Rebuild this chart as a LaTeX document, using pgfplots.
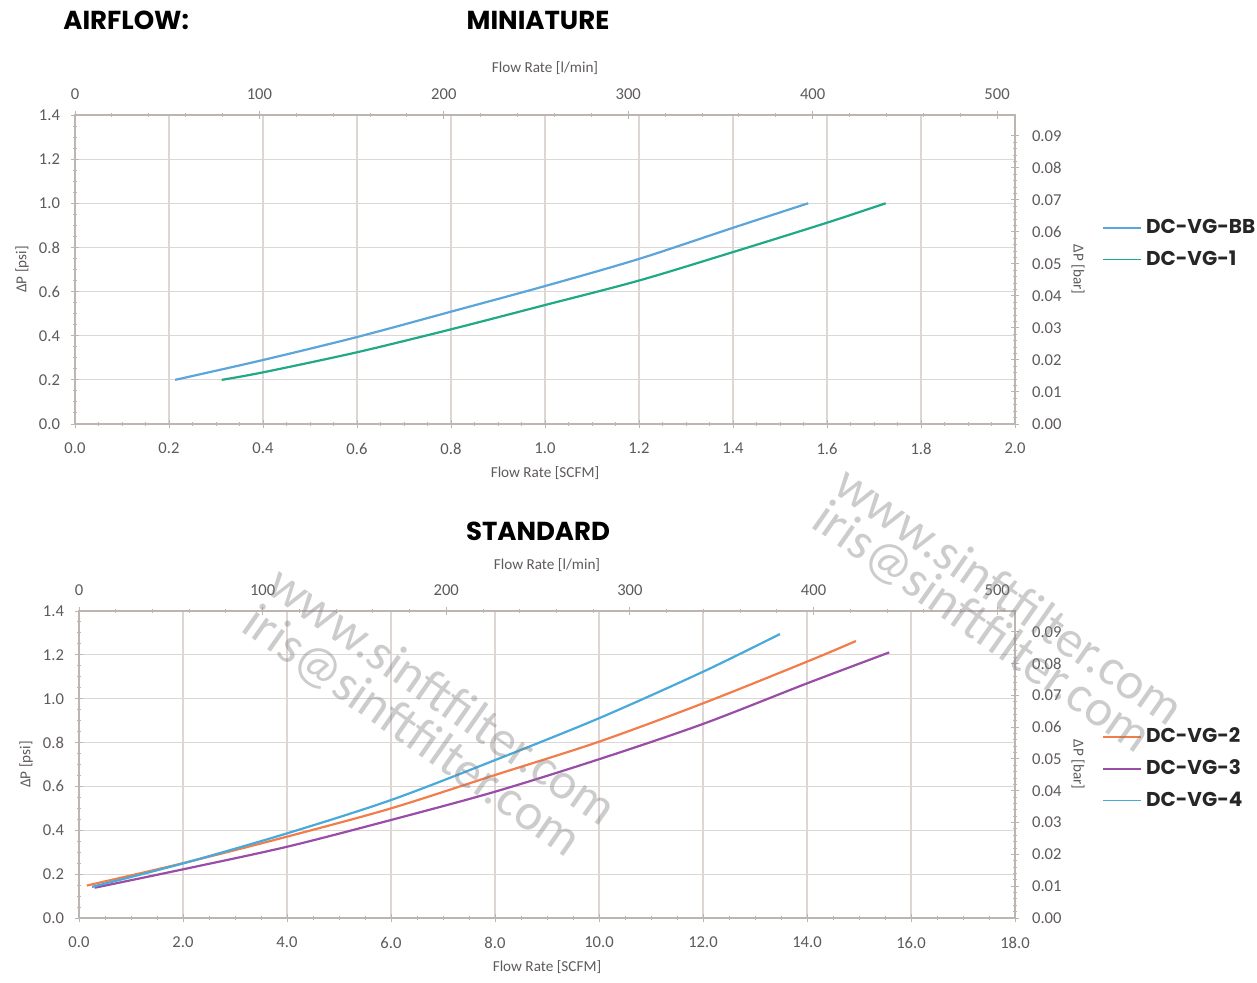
\documentclass[border=0pt]{standalone}
\usepackage{fontspec}
\setmainfont{Carlito}
\newfontfamily\headfont{Poppins}
\usepackage{pgfplots}
\pgfplotsset{compat=1.18}

\definecolor{gridc}{HTML}{DDD6D3}
\definecolor{axisc}{HTML}{BDB5B2}
\definecolor{tickc}{HTML}{5E5A59}
\definecolor{cBB}{HTML}{5AA5DC}
\definecolor{cVone}{HTML}{1FA987}
\definecolor{cVtwo}{HTML}{F27D4B}
\definecolor{cVthree}{HTML}{9A4DA6}
\definecolor{cVfour}{HTML}{48A9DB}

\pgfplotsset{
  flowbase/.style={
    scale only axis,
    axis line style={axisc, line width=0.7pt},
    tick style={axisc, line width=0.5pt},
    major tick length=4pt, minor tick length=2pt,
    tick align=center,
    ticklabel style={font=\fontsize{8.3}{9}\selectfont, text=tickc},
    label style={font=\fontsize{7.6}{9}\selectfont, text=tickc},
    /pgf/number format/assume math mode=true,
    scaled ticks=false,
  },
  flowmain/.style={
    flowbase,
    grid=major, grid style={gridc, line width=0.6pt},
    tick pos=left,
    ymin=0, ymax=1.4, ytick={0,0.2,...,1.41},
    minor x tick num=3, minor y tick num=3,
    xticklabel style={/pgf/number format/fixed, /pgf/number format/fixed zerofill, /pgf/number format/precision=1},
    yticklabel style={/pgf/number format/fixed, /pgf/number format/fixed zerofill, /pgf/number format/precision=1},
    xticklabel shift=4pt, yticklabel shift=2pt,
    ylabel={ΔP [psi]},
    xlabel={Flow Rate [SCFM]},
    legend cell align=left,
    legend image code/.code={\draw[#1, line width=0.8pt] (0pt,0pt) -- (19pt,0pt);},
    legend style={draw=none, fill=none, inner sep=0pt, row sep=3pt,
      font=\headfont\bfseries\fontsize{10}{12}\selectfont, text=black!85},
    every axis plot/.append style={line width=1.1pt, smooth},
  },
  flowtwin/.style={
    flowbase,
    axis x line*=top, axis y line*=right,
    xmin=0, xmax=509.7, xtick={0,100,...,500},
    ymin=0, ymax=0.096527, ytick={0,0.01,...,0.091},
    minor x tick num=4, minor y tick num=4,
    yticklabel style={/pgf/number format/fixed, /pgf/number format/fixed zerofill, /pgf/number format/precision=2},
    xticklabel shift=2pt, yticklabel shift=3pt,
    xlabel={Flow Rate [l/min]}, ylabel={ΔP [bar]},
  },
}

\begin{document}
\begin{tikzpicture}

% ---- MINIATURE ----
\begin{axis}[flowmain,
  at={(37.5pt,279pt)}, anchor=south west, width=470pt, height=154.5pt,
  xmin=0, xmax=2, xtick={0,0.2,...,2.01},
  xlabel style={at={(axis description cs:0.5,-0.1586)}, anchor=center},
  ylabel style={at={(axis description cs:-0.0564,0.5)}, anchor=center},
  legend style={at={(1.0926,0.5825)}, anchor=west}]
\addplot[cBB] coordinates {
  (0.213,0.200) (0.4,0.290) (0.6,0.394) (0.8,0.509)
  (1.0,0.625) (1.2,0.748) (1.4,0.889) (1.56,1.000) };
\addlegendentry{DC-VG-BB}
\addplot[cVone] coordinates {
  (0.312,0.200) (0.4,0.234) (0.6,0.325) (0.8,0.429) (1.0,0.539)
  (1.2,0.650) (1.4,0.779) (1.6,0.912) (1.725,1.000) };
\addlegendentry{DC-VG-1}
\end{axis}
\begin{axis}[flowtwin,
  at={(37.5pt,279pt)}, anchor=south west, width=470pt, height=154.5pt,
  xlabel style={at={(axis description cs:0.5,1.152)}, anchor=center},
  ylabel style={at={(axis description cs:1.067,0.5)}, anchor=center, rotate=180}]
\addplot[draw=none, forget plot] coordinates {(0,0)};
\end{axis}

% ---- STANDARD ----
\begin{axis}[flowmain,
  at={(39.5pt,32pt)}, anchor=south west, width=468pt, height=153.5pt,
  xmin=0, xmax=18, xtick={0,2,...,18},
  xlabel style={at={(axis description cs:0.5,-0.1596)}, anchor=center},
  ylabel style={at={(axis description cs:-0.0566,0.5)}, anchor=center},
  legend style={at={(1.093,0.487)}, anchor=west}]
\addplot[cVtwo] coordinates {
  (0.15,0.148) (2,0.250) (4,0.371) (6,0.500) (8,0.652)
  (10,0.804) (12,0.979) (14,1.169) (14.94,1.263) };
\addlegendentry{DC-VG-2}
\addplot[cVthree] coordinates {
  (0.3,0.138) (2,0.222) (4,0.325) (6,0.447) (8,0.576)
  (10,0.724) (12,0.885) (14,1.070) (15.58,1.211) };
\addlegendentry{DC-VG-3}
\addplot[cVfour] coordinates {
  (0.25,0.142) (2,0.249) (4,0.386) (6,0.538) (8,0.720)
  (10,0.911) (12,1.123) (13.48,1.295) };
\addlegendentry{DC-VG-4}
\end{axis}
\begin{axis}[flowtwin,
  at={(39.5pt,32pt)}, anchor=south west, width=468pt, height=153.5pt,
  xlabel style={at={(axis description cs:0.5,1.15)}, anchor=center},
  ylabel style={at={(axis description cs:1.0673,0.5)}, anchor=center, rotate=180}]
\addplot[draw=none, forget plot] coordinates {(0,0)};
\end{axis}

% titles
\node[anchor=west, inner sep=0pt, font=\headfont\bfseries\fontsize{13}{15}\selectfont] at (31.5pt,481pt) {AIRFLOW:};
\node[font=\headfont\bfseries\fontsize{13}{15}\selectfont] at (269pt,481pt) {MINIATURE};
\node[font=\headfont\bfseries\fontsize{13}{15}\selectfont] at (269pt,225.5pt) {STANDARD};

% watermark
\begin{scope}[every node/.style={rotate=-35, text=gray, opacity=0.4, font=\fontsize{26}{28}\selectfont}]
\node at (221.5pt,143.5pt) {www.sinftfilter.com};
\node at (206pt,125pt) {iris@sinftfilter.com};
\node at (505pt,193.5pt) {www.sinftfilter.com};
\node at (491pt,177pt) {iris@sinftfilter.com};
\end{scope}

\pgfresetboundingbox
\path (0,0) rectangle (628.5pt,491pt);
\end{tikzpicture}
\end{document}
